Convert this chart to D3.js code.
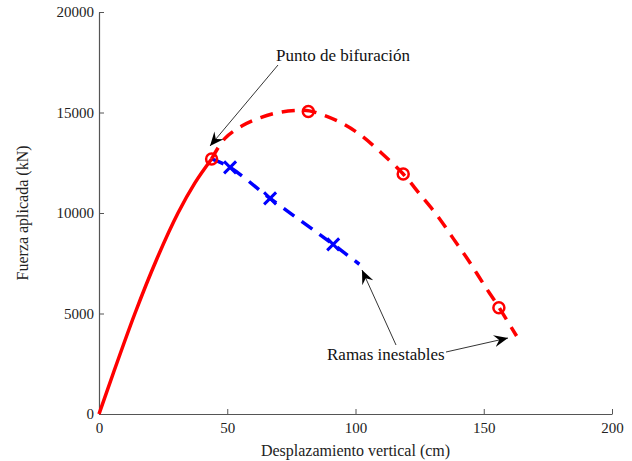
<!DOCTYPE html>
<html>
<head>
<meta charset="utf-8">
<script src="https://cdn.jsdelivr.net/npm/d3@7"></script>
<style>
  body { margin: 0; background: #fff; }
  text { font-family: "Liberation Serif", "DejaVu Serif", serif; }
</style>
</head>
<body>
<div id="chart"></div>
<script>
// stable branch (solid red)
var stableX = [0, 5.6, 14, 22.5, 30.8, 37.4, 43.9];
var stableY = [0, 2040, 5000, 7700, 10000, 11500, 12690];

// unstable branch 1 (dashed red)
var redX = [43.9, 49, 56, 63, 70, 77, 82, 88, 95, 102, 110, 118.6, 125, 132, 138, 144, 150, 156, 162.8];
var redY = [12690, 13700, 14350, 14750, 15000, 15100, 15080, 14850, 14450, 13880, 13000, 11940, 10950, 9850, 8750, 7650, 6450, 5290, 3880];
var redMarkX = [43.9, 81.6, 118.6, 155.9];
var redMarkY = [12690, 15050, 11940, 5290];

// unstable branch 2 (dashed blue)
var blueX = [43.9, 51.1, 66.7, 91.3, 101.5];
var blueY = [12690, 12270, 10730, 8440, 7450];
var blueMarkX = [51.1, 66.7, 91.3];
var blueMarkY = [12270, 10730, 8440];

var xTicks = [0, 50, 100, 150, 200];
var yTicks = [0, 5000, 10000, 15000, 20000];

var margin = {top: 12, right: 20, bottom: 47, left: 99},
    width = 632 - margin.left - margin.right,
    height = 461 - margin.top - margin.bottom;

var svg = d3.select("#chart")
    .append("svg")
        .attr("width", 632)
        .attr("height", 461)
    .append("g")
        .attr("transform", "translate(" + margin.left + "," + margin.top + ")");

var xScale = d3.scaleLinear().domain([0, 200]).range([0, width]);
var yScale = d3.scaleLinear().domain([0, 20000]).range([height, 0]);

// arrowhead
svg.append("defs").append("marker")
    .attr("id", "arrow")
    .attr("viewBox", "-14 -7 16 14")
    .attr("refX", 0)
    .attr("refY", 0)
    .attr("markerWidth", 16)
    .attr("markerHeight", 14)
    .attr("markerUnits", "userSpaceOnUse")
    .attr("orient", "auto")
    .append("path")
        .attr("d", "M0,0 L-14,-6 L-9,0 L-14,6 Z")
        .attr("fill", "#000");

// axes
var xAxis = svg.append("g")
    .attr("transform", "translate(0," + height + ")")
    .call(d3.axisBottom(xScale).tickValues(xTicks).tickFormat(d3.format("d"))
        .tickSizeInner(-5).tickSizeOuter(0).tickPadding(8));
var yAxis = svg.append("g")
    .call(d3.axisLeft(yScale).tickValues(yTicks).tickFormat(d3.format("d"))
        .tickSizeInner(-5).tickSizeOuter(0).tickPadding(5));

[xAxis, yAxis].forEach(function(ax) {
  ax.select(".domain").attr("stroke", "#555").attr("stroke-width", 1.2);
  ax.selectAll(".tick line").attr("stroke", "#555");
  ax.selectAll(".tick text")
      .attr("font-family", "Liberation Serif, serif")
      .attr("font-size", "15px")
      .attr("fill", "#222");
});

function pts(xs, ys) { return xs.map(function(x, i) { return [x, ys[i]]; }); }

var line = d3.line()
    .x(function(d) { return xScale(d[0]); })
    .y(function(d) { return yScale(d[1]); })
    .curve(d3.curveCatmullRom);

svg.append("path")
    .attr("d", line(pts(blueX, blueY)))
    .attr("fill", "none")
    .attr("stroke", "#0000ff")
    .attr("stroke-width", 3.5)
    .attr("stroke-dasharray", "13,9");

svg.append("path")
    .attr("d", line(pts(redX, redY)))
    .attr("fill", "none")
    .attr("stroke", "#ff0000")
    .attr("stroke-width", 3.5)
    .attr("stroke-dasharray", "13,9");

svg.append("path")
    .attr("d", line.curve(d3.curveMonotoneX)(pts(stableX, stableY)))
    .attr("fill", "none")
    .attr("stroke", "#ff0000")
    .attr("stroke-width", 3.5);

// markers
svg.append("g").selectAll("circle")
    .data(pts(redMarkX, redMarkY))
    .enter()
    .append("circle")
        .attr("cx", function(d) { return xScale(d[0]); })
        .attr("cy", function(d) { return yScale(d[1]); })
        .attr("r", 5.5)
        .attr("fill", "none")
        .attr("stroke", "#ff0000")
        .attr("stroke-width", 2.5);

svg.append("g").selectAll("path")
    .data(pts(blueMarkX, blueMarkY))
    .enter()
    .append("path")
        .attr("transform", function(d) { return "translate(" + xScale(d[0]) + "," + yScale(d[1]) + ")"; })
        .attr("d", "M-6,-6L6,6M-6,6L6,-6")
        .attr("stroke", "#0000ff")
        .attr("stroke-width", 3);

// annotations
var ann = svg.append("g").attr("transform", "translate(" + (-margin.left) + "," + (-margin.top) + ")");

ann.append("text")
    .attr("x", 276)
    .attr("y", 61)
    .attr("font-size", "17px")
    .attr("fill", "#111")
    .text("Punto de bifuración");
ann.append("line")
    .attr("x1", 278).attr("y1", 65)
    .attr("x2", 210).attr("y2", 146)
    .attr("stroke", "#000").attr("stroke-width", 0.8)
    .attr("marker-end", "url(#arrow)");

ann.append("text")
    .attr("x", 327)
    .attr("y", 360)
    .attr("font-size", "17px")
    .attr("fill", "#111")
    .text("Ramas inestables");
ann.append("line")
    .attr("x1", 396).attr("y1", 345)
    .attr("x2", 362).attr("y2", 270)
    .attr("stroke", "#000").attr("stroke-width", 0.8)
    .attr("marker-end", "url(#arrow)");
ann.append("line")
    .attr("x1", 446).attr("y1", 352)
    .attr("x2", 508).attr("y2", 338)
    .attr("stroke", "#000").attr("stroke-width", 0.8)
    .attr("marker-end", "url(#arrow)");

// axis labels
svg.append("text")
    .attr("x", width / 2)
    .attr("y", height + 42)
    .attr("text-anchor", "middle")
    .attr("font-size", "16px")
    .attr("fill", "#222")
    .text("Desplazamiento vertical (cm)");

svg.append("text")
    .attr("transform", "rotate(-90)")
    .attr("x", -(213 - margin.top))
    .attr("y", 28 - margin.left)
    .attr("text-anchor", "middle")
    .attr("font-size", "16px")
    .attr("fill", "#222")
    .text("Fuerza aplicada (kN)");
</script>
</body>
</html>
